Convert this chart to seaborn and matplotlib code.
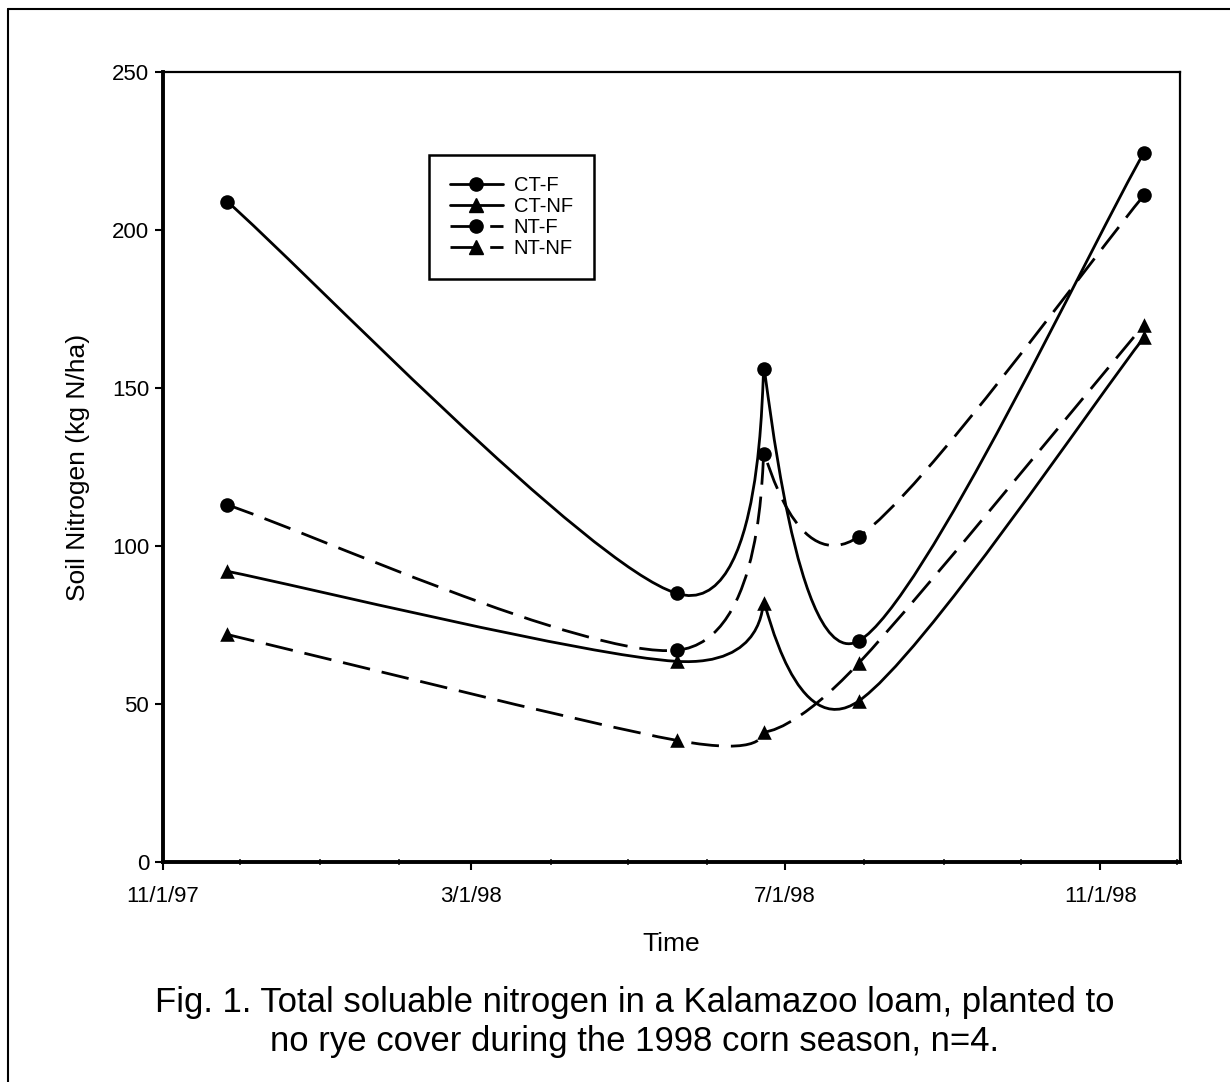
import numpy as np
import pandas as pd
import matplotlib
matplotlib.use("Agg")
import matplotlib.pyplot as plt
import matplotlib.dates as mdates
from matplotlib.path import Path
from matplotlib.patches import PathPatch
from matplotlib.lines import Line2D
from matplotlib.ticker import FuncFormatter
import seaborn as sns

# sampling dates and soil nitrogen (kg N/ha) per treatment
dates = pd.to_datetime(["1997-11-26", "1998-05-20", "1998-06-23", "1998-07-30", "1998-11-18"])
series_names = ["CT-F", "CT-NF", "NT-F", "NT-NF"]
ct_f = [209, 85, 156, 70, 224.5]
ct_nf = [92, 63.5, 82, 51, 166]
nt_f = [113, 67, 129, 103, 211]
nt_nf = [72, 38.5, 41, 63, 170]
y_ticks = [0, 50, 100, 150, 200, 250]
caption = ("Fig. 1. Total soluable nitrogen in a Kalamazoo loam, planted to\n"
           "no rye cover during the 1998 corn season, n=4.")

# how round the smoothed line is at each sampling date (1 = normal, ~0 = sharp)
knot_tension = [1.0, 1.0, 0.08, 1.0, 1.0]

values = {"CT-F": ct_f, "CT-NF": ct_nf, "NT-F": nt_f, "NT-NF": nt_nf}
markers = {"CT-F": "o", "CT-NF": "^", "NT-F": "o", "NT-NF": "^"}
dashed = (0, (10, 4.3))
linestyles = {"CT-F": "-", "CT-NF": "-", "NT-F": dashed, "NT-NF": dashed}

df = pd.DataFrame({
    "date": np.tile(dates, len(series_names)),
    "N": np.concatenate([values[s] for s in series_names]),
    "series": np.repeat(series_names, len(dates)),
})

sns.set_style("ticks")
plt.rcParams["font.family"] = ["Liberation Sans", "DejaVu Sans"]
plt.rcParams["text.color"] = "black"
plt.rcParams["axes.labelcolor"] = "black"


def smooth_path(x, y, tension):
    # smoothed line like the spreadsheet one: Catmull-Rom segments as cubic Beziers
    pts = np.column_stack([x, y])
    ext = np.vstack([pts[0], pts, pts[-1]])
    tang = [(ext[i + 2] - ext[i]) / 6 * tension[i] for i in range(len(pts))]
    verts = [pts[0]]
    codes = [Path.MOVETO]
    for i in range(len(pts) - 1):
        verts += [pts[i] + tang[i], pts[i + 1] - tang[i + 1], pts[i + 1]]
        codes += [Path.CURVE4] * 3
    return Path(verts, codes)


fig = plt.figure(figsize=(12.3, 10.82), dpi=100)
ax = fig.add_axes([163 / 1230, 1 - 862 / 1082, 1017 / 1230, 790 / 1082])

for name in series_names:
    sub = df[df["series"] == name]
    sns.scatterplot(data=sub, x="date", y="N", marker=markers[name], color="black",
                    s=110, edgecolor="black", linewidth=0, zorder=4, ax=ax, legend=False)
    xs = mdates.date2num(sub["date"])
    patch = PathPatch(smooth_path(xs, sub["N"].to_numpy(), knot_tension), facecolor="none",
                      edgecolor="black", lw=2, linestyle=linestyles[name], zorder=3)
    ax.add_patch(patch)

ax.set_xlim(pd.Timestamp("1997-11-01"), pd.Timestamp("1998-12-02"))
ax.set_ylim(0, 250)
ax.set_yticks(y_ticks)
ax.xaxis.set_major_locator(mdates.MonthLocator(bymonth=[3, 7, 11]))
ax.xaxis.set_minor_locator(mdates.MonthLocator())
ax.xaxis.set_major_formatter(FuncFormatter(
    lambda v, p: "{d.month}/{d.day}/{y}".format(d=mdates.num2date(v), y=mdates.num2date(v).strftime("%y"))))

ax.tick_params(axis="both", which="major", direction="out", length=6, width=1.5,
               labelsize=16, color="black", labelcolor="black")
ax.tick_params(axis="x", which="minor", direction="inout", length=5, width=1.2)
ax.tick_params(axis="x", which="major", pad=11)
ax.tick_params(axis="y", which="major", pad=4)

for side in ["left", "bottom"]:
    ax.spines[side].set_linewidth(2.8)
for side in ["top", "right"]:
    ax.spines[side].set_linewidth(1.6)
for sp in ax.spines.values():
    sp.set_color("black")

ax.set_xlabel("Time", fontsize=19, labelpad=18)
ax.set_ylabel("Soil Nitrogen (kg N/ha)", fontsize=19, labelpad=16)

handles = [Line2D([], [], color="black", lw=2, linestyle=linestyles[s],
                  marker=markers[s], markersize=9.5) for s in series_names]
leg = ax.legend(handles, series_names, loc="upper left",
                bbox_to_anchor=((429 - 163) / 1017, (862 - 155) / 790),
                borderaxespad=0, fontsize=14.5, handlelength=2.6, handletextpad=0.55,
                labelspacing=0.1, borderpad=1.05, fancybox=False, framealpha=1)
leg.get_frame().set_edgecolor("black")
leg.get_frame().set_linewidth(1.8)

fig.text(635 / 1230, 1 - 1022 / 1082, caption, ha="center", va="center",
         fontsize=25, linespacing=1.22)

# scan border along top and left
fig.add_artist(Line2D([8 / 1230, 1], [1 - 9 / 1082, 1 - 9 / 1082], color="black", lw=1.5,
                      transform=fig.transFigure))
fig.add_artist(Line2D([8 / 1230, 8 / 1230], [0, 1 - 9 / 1082], color="black", lw=1.5,
                      transform=fig.transFigure))

fig.savefig("out.png", dpi=100, facecolor="white")
